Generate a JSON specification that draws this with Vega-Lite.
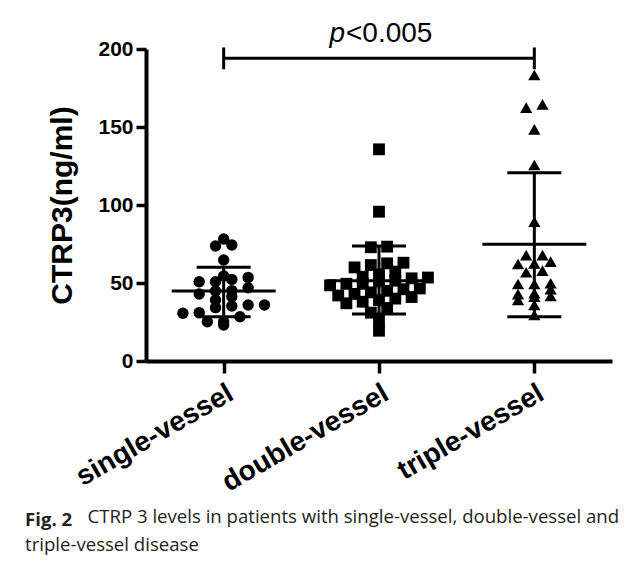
{
  "$schema": "https://vega.github.io/schema/vega-lite/v6.json",
  "width": 466,
  "height": 312,
  "autosize": "none",
  "padding": {"left": 146, "top": 49, "right": 23, "bottom": 206},
  "background": "white",
  "config": {"view": {"stroke": null}, "font": "Liberation Sans"},
  "title": {
    "text": "Fig. 2",
    "subtitle": "triple-vessel disease",
    "orient": "bottom",
    "anchor": "start",
    "frame": "group",
    "dx": -121,
    "offset": -15,
    "font": "Open Sans",
    "fontSize": 18.6,
    "fontWeight": "bold",
    "color": "#231f20",
    "subtitleFont": "Open Sans",
    "subtitleFontSize": 18.6,
    "subtitleColor": "#231f20",
    "subtitlePadding": 7
  },
  "datasets": {
    "points": [
      {"g": "single-vessel", "v": 78.2}, {"g": "single-vessel", "v": 73.7}, {"g": "single-vessel", "v": 74.4},
      {"g": "single-vessel", "v": 64.7}, {"g": "single-vessel", "v": 54.5}, {"g": "single-vessel", "v": 52.3},
      {"g": "single-vessel", "v": 50.8}, {"g": "single-vessel", "v": 50.8}, {"g": "single-vessel", "v": 53.6},
      {"g": "single-vessel", "v": 47.0}, {"g": "single-vessel", "v": 44.9}, {"g": "single-vessel", "v": 41.2},
      {"g": "single-vessel", "v": 45.1}, {"g": "single-vessel", "v": 42.9}, {"g": "single-vessel", "v": 39.1},
      {"g": "single-vessel", "v": 35.9}, {"g": "single-vessel", "v": 35.3}, {"g": "single-vessel", "v": 35.9},
      {"g": "single-vessel", "v": 34.2}, {"g": "single-vessel", "v": 30.6}, {"g": "single-vessel", "v": 25.2},
      {"g": "single-vessel", "v": 23.1}, {"g": "single-vessel", "v": 25.2}, {"g": "single-vessel", "v": 28.4},
      {"g": "single-vessel", "v": 31.0},
      {"g": "double-vessel", "v": 135.7}, {"g": "double-vessel", "v": 95.7}, {"g": "double-vessel", "v": 72.9},
      {"g": "double-vessel", "v": 73.3}, {"g": "double-vessel", "v": 63.0}, {"g": "double-vessel", "v": 61.5},
      {"g": "double-vessel", "v": 60.0}, {"g": "double-vessel", "v": 62.6}, {"g": "double-vessel", "v": 57.3},
      {"g": "double-vessel", "v": 54.0}, {"g": "double-vessel", "v": 55.5}, {"g": "double-vessel", "v": 53.5},
      {"g": "double-vessel", "v": 51.5}, {"g": "double-vessel", "v": 49.5}, {"g": "double-vessel", "v": 48.5},
      {"g": "double-vessel", "v": 49.5}, {"g": "double-vessel", "v": 51.0}, {"g": "double-vessel", "v": 53.0},
      {"g": "double-vessel", "v": 46.0}, {"g": "double-vessel", "v": 44.0}, {"g": "double-vessel", "v": 42.0},
      {"g": "double-vessel", "v": 40.0}, {"g": "double-vessel", "v": 38.0}, {"g": "double-vessel", "v": 37.0},
      {"g": "double-vessel", "v": 39.0}, {"g": "double-vessel", "v": 41.0}, {"g": "double-vessel", "v": 43.0},
      {"g": "double-vessel", "v": 45.0}, {"g": "double-vessel", "v": 46.5}, {"g": "double-vessel", "v": 34.0},
      {"g": "double-vessel", "v": 31.0}, {"g": "double-vessel", "v": 25.8}, {"g": "double-vessel", "v": 19.4},
      {"g": "triple-vessel", "v": 183.3}, {"g": "triple-vessel", "v": 162.4}, {"g": "triple-vessel", "v": 164.5},
      {"g": "triple-vessel", "v": 148.5}, {"g": "triple-vessel", "v": 125.6}, {"g": "triple-vessel", "v": 89.3},
      {"g": "triple-vessel", "v": 67.9}, {"g": "triple-vessel", "v": 63.7}, {"g": "triple-vessel", "v": 62.2},
      {"g": "triple-vessel", "v": 62.6}, {"g": "triple-vessel", "v": 67.9}, {"g": "triple-vessel", "v": 56.9},
      {"g": "triple-vessel", "v": 57.9}, {"g": "triple-vessel", "v": 49.4}, {"g": "triple-vessel", "v": 49.8},
      {"g": "triple-vessel", "v": 49.4}, {"g": "triple-vessel", "v": 46.0}, {"g": "triple-vessel", "v": 42.9},
      {"g": "triple-vessel", "v": 41.7}, {"g": "triple-vessel", "v": 43.4}, {"g": "triple-vessel", "v": 41.2},
      {"g": "triple-vessel", "v": 39.1}, {"g": "triple-vessel", "v": 35.9}, {"g": "triple-vessel", "v": 29.5}
    ],
    "summary": [
      {"g": "single-vessel", "mean": 44.9, "lo": 28.4, "hi": 60.1},
      {"g": "double-vessel", "mean": 51.5, "lo": 30.1, "hi": 73.7},
      {"g": "triple-vessel", "mean": 74.8, "lo": 28.4, "hi": 120.7}
    ],
    "bracket": [
      {"from": "single-vessel", "to": "triple-vessel", "y": 194, "ylo": 187, "yhi": 201, "p": "p", "rest": "<0.005"}
    ]
  },
  "layer": [
    {
      "data": {"name": "points"},
      "transform": [
        {"calculate": "indexof(['single-vessel','double-vessel','triple-vessel'], datum.g) + 1", "as": "gi"},
        {"calculate": "floor(datum.v / 6)", "as": "row"},
        {"window": [{"op": "row_number", "as": "r"}, {"op": "count", "as": "n"}], "groupby": ["g", "row"], "sort": [{"field": "v"}], "frame": [null, null]},
        {"calculate": "datum.gi + (datum.r - (datum.n + 1) / 2) * 0.105", "as": "xp"}
      ],
      "mark": {"type": "point", "filled": true, "color": "black", "opacity": 1, "strokeWidth": 0},
      "encoding": {
        "x": {
          "field": "xp", "type": "quantitative",
          "scale": {"domain": [0.5, 3.5], "nice": false, "zero": false},
          "axis": {
            "values": [1, 2, 3],
            "labelExpr": "datum.value == 1 ? 'single-vessel' : datum.value == 2 ? 'double-vessel' : 'triple-vessel'",
            "labelAngle": -30,
            "labelAlign": "right",
            "labelBaseline": "top",
            "labelFont": "Liberation Sans",
            "labelFontWeight": "bold",
            "labelFontSize": 28,
            "labelColor": "black",
            "labelPadding": 6,
            "labelLimit": 0,
            "labelOverlap": false,
            "labelFlush": false,
            "tickSize": 12,
            "tickWidth": 3.5,
            "tickColor": "black",
            "domainWidth": 4,
            "domainColor": "black",
            "grid": false,
            "title": "CTRP 3 levels in patients with single-vessel, double-vessel and",
            "titleFont": "Open Sans",
            "titleFontSize": 18.6,
            "titleFontWeight": "normal",
            "titleColor": "#231f20",
            "titleX": -59,
            "titleY": 161,
            "titleAlign": "left",
            "titleBaseline": "alphabetic",
            "titleAngle": 0,
            "titleLimit": 0
          }
        },
        "y": {
          "field": "v", "type": "quantitative",
          "scale": {"domain": [0, 200], "nice": false},
          "axis": {
            "values": [0, 50, 100, 150, 200],
            "labelFont": "Liberation Sans",
            "labelFontWeight": "bold",
            "labelFontSize": 21,
            "labelColor": "black",
            "labelPadding": 3,
            "tickSize": 10,
            "tickWidth": 3.5,
            "tickColor": "black",
            "domainWidth": 4,
            "domainColor": "black",
            "grid": false,
            "title": "CTRP3(ng/ml)",
            "titleFont": "Liberation Sans",
            "titleFontWeight": "bold",
            "titleFontSize": 30,
            "titleColor": "black",
            "titlePadding": 20
          }
        },
        "shape": {
          "field": "g", "type": "nominal",
          "scale": {"domain": ["single-vessel", "double-vessel", "triple-vessel"], "range": ["circle", "square", "triangle-up"]},
          "legend": null
        },
        "size": {
          "field": "g", "type": "nominal",
          "scale": {"domain": ["single-vessel", "double-vessel", "triple-vessel"], "range": [130, 150, 165]},
          "legend": null
        }
      }
    },
    {
      "data": {"name": "summary"},
      "transform": [
        {"calculate": "indexof(['single-vessel','double-vessel','triple-vessel'], datum.g) + 1", "as": "xp"}
      ],
      "mark": {"type": "rule", "color": "black", "strokeWidth": 3, "opacity": 1},
      "encoding": {
        "x": {"field": "xp", "type": "quantitative", "scale": {"domain": [0.5, 3.5], "nice": false, "zero": false}},
        "y": {"field": "lo", "type": "quantitative", "scale": {"domain": [0, 200], "nice": false}},
        "y2": {"field": "hi"}
      }
    },
    {
      "data": {"name": "summary"},
      "transform": [
        {"calculate": "indexof(['single-vessel','double-vessel','triple-vessel'], datum.g) + 1", "as": "xp"},
        {"fold": ["lo", "hi"], "as": ["k", "v"]}
      ],
      "mark": {"type": "tick", "color": "black", "opacity": 1, "orient": "horizontal", "size": 54, "thickness": 3},
      "encoding": {
        "x": {"field": "xp", "type": "quantitative", "scale": {"domain": [0.5, 3.5], "nice": false, "zero": false}},
        "y": {"field": "v", "type": "quantitative", "scale": {"domain": [0, 200], "nice": false}}
      }
    },
    {
      "data": {"name": "summary"},
      "transform": [
        {"calculate": "indexof(['single-vessel','double-vessel','triple-vessel'], datum.g) + 1", "as": "xp"}
      ],
      "mark": {"type": "tick", "color": "black", "opacity": 1, "orient": "horizontal", "size": 104, "thickness": 3},
      "encoding": {
        "x": {"field": "xp", "type": "quantitative", "scale": {"domain": [0.5, 3.5], "nice": false, "zero": false}},
        "y": {"field": "mean", "type": "quantitative", "scale": {"domain": [0, 200], "nice": false}}
      }
    },
    {
      "data": {"name": "bracket"},
      "transform": [
        {"calculate": "indexof(['single-vessel','double-vessel','triple-vessel'], datum.from) + 1", "as": "xp"},
        {"calculate": "indexof(['single-vessel','double-vessel','triple-vessel'], datum.to) + 1", "as": "xp2"}
      ],
      "mark": {"type": "rule", "color": "black", "strokeWidth": 3},
      "encoding": {
        "x": {"field": "xp", "type": "quantitative", "scale": {"domain": [0.5, 3.5], "nice": false, "zero": false}},
        "x2": {"field": "xp2"},
        "y": {"field": "y", "type": "quantitative", "scale": {"domain": [0, 200], "nice": false}}
      }
    },
    {
      "data": {"name": "bracket"},
      "transform": [
        {"fold": ["from", "to"], "as": ["end", "cat"]},
        {"calculate": "indexof(['single-vessel','double-vessel','triple-vessel'], datum.cat) + 1", "as": "xp"}
      ],
      "mark": {"type": "rule", "color": "black", "strokeWidth": 3},
      "encoding": {
        "x": {"field": "xp", "type": "quantitative", "scale": {"domain": [0.5, 3.5], "nice": false, "zero": false}},
        "y": {"field": "ylo", "type": "quantitative", "scale": {"domain": [0, 200], "nice": false}},
        "y2": {"field": "yhi"}
      }
    },
    {
      "data": {"name": "bracket"},
      "transform": [
        {"calculate": "(indexof(['single-vessel','double-vessel','triple-vessel'], datum.from) + indexof(['single-vessel','double-vessel','triple-vessel'], datum.to)) / 2 + 1", "as": "xp"}
      ],
      "mark": {"type": "text", "align": "right", "baseline": "alphabetic", "dx": -34, "dy": -5, "font": "Liberation Sans", "fontSize": 28, "fontStyle": "italic", "color": "black"},
      "encoding": {
        "x": {"field": "xp", "type": "quantitative", "scale": {"domain": [0.5, 3.5], "nice": false, "zero": false}},
        "y": {"field": "yhi", "type": "quantitative", "scale": {"domain": [0, 200], "nice": false}},
        "text": {"field": "p"}
      }
    },
    {
      "data": {"name": "bracket"},
      "transform": [
        {"calculate": "(indexof(['single-vessel','double-vessel','triple-vessel'], datum.from) + indexof(['single-vessel','double-vessel','triple-vessel'], datum.to)) / 2 + 1", "as": "xp"}
      ],
      "mark": {"type": "text", "align": "left", "baseline": "alphabetic", "dx": -33, "dy": -5, "font": "Liberation Sans", "fontSize": 28, "color": "black"},
      "encoding": {
        "x": {"field": "xp", "type": "quantitative", "scale": {"domain": [0.5, 3.5], "nice": false, "zero": false}},
        "y": {"field": "yhi", "type": "quantitative", "scale": {"domain": [0, 200], "nice": false}},
        "text": {"field": "rest"}
      }
    }
  ]
}
